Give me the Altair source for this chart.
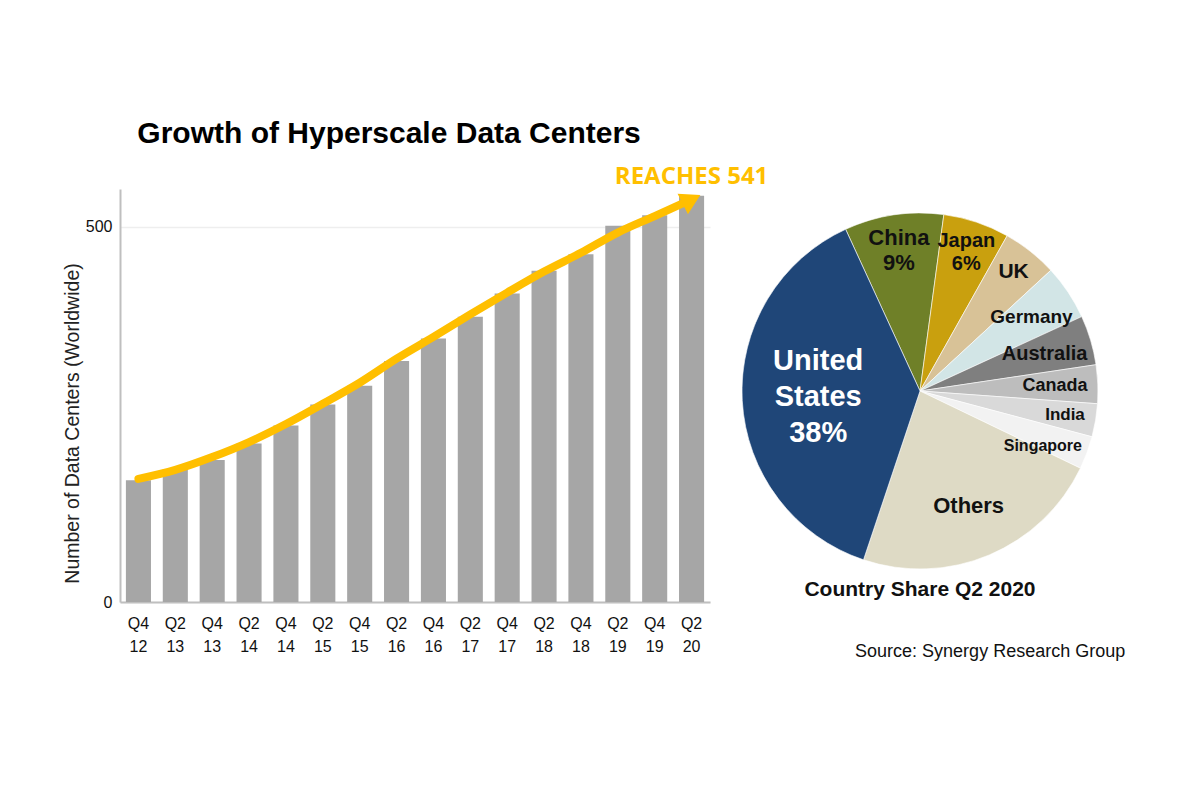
import math
import altair as alt
import pandas as pd

# Hyperscale data center counts (worldwide), half-yearly
quarters = ["Q4 12", "Q2 13", "Q4 13", "Q2 14", "Q4 14", "Q2 15", "Q4 15", "Q2 16",
            "Q4 16", "Q2 17", "Q4 17", "Q2 18", "Q4 18", "Q2 19", "Q4 19", "Q2 20"]
centers = [162, 177, 189, 211, 235, 263, 288, 321, 351, 380, 411, 441, 463, 501, 515, 541]
# Smoothed growth trend drawn as an arrow over the bars
trend = [164, 176, 193, 213, 237, 264, 292, 324, 353, 383, 412, 440, 465, 492, 514, 536]

# Country share of hyperscale data centers, Q2 2020 (percent)
countries = ["China", "Japan", "UK", "Germany", "Australia", "Canada", "India",
             "Singapore", "Others", "United States"]
shares = [9, 6, 5, 5, 4.5, 3.5, 3, 3, 23, 38]
slice_colors = ["#6F8028", "#C9A00E", "#D8C297", "#D2E5E6", "#7F7F7F", "#BDBDBD",
                "#D9D9D9", "#F2F2F2", "#DEDAC5", "#1F4678"]
slice_labels = ["China\n9%", "Japan\n6%", "UK", "Germany", "Australia", "Canada",
                "India", "Singapore", "Others", "United\nStates\n38%"]
label_sizes = [22, 20, 21, 19, 20, 18, 17, 16, 22, 29]
label_radius = [143, 146, 151, 134, 130, 135, 147, 131, 125, 102]
label_colors = ["#111111"] * 9 + ["#FFFFFF"]
# vertical nudge of each label block and its line spacing
label_dy = [-12, -12, 0, 0, 0, 0, 0, 10, 0, -36]
label_lh = [25, 23, 25, 25, 25, 25, 25, 25, 25, 36]

FONT = "Liberation Sans"
YELLOW = "#FFBF00"

bars_df = pd.DataFrame({"quarter": quarters, "centers": centers, "trend": trend})

x_enc = alt.X(
    "quarter:N", sort=quarters, title=None,
    scale=alt.Scale(paddingInner=0.32, paddingOuter=0.16),
    axis=alt.Axis(
        labelExpr="split(datum.label, ' ')", labelAngle=0, labelFont=FONT,
        labelFontSize=16, labelColor="#111111", labelPadding=13, ticks=False,
        domainColor="#BFBFBF", domainWidth=2, labelLineHeight=23,
    ),
)
y_scale = alt.Scale(domain=[0, 550], nice=False)
y_axis = alt.Axis(
    values=[0, 500], title="Number of Data Centers (Worldwide)", titleFont=FONT,
    titleFontSize=19.5, titleFontWeight="normal", titleColor="#222222", titlePadding=3,
    titleY=234, titleAnchor="middle",
    labelFont=FONT, labelFontSize=16, labelColor="#111111", ticks=False, labelPadding=8,
    domainColor="#BFBFBF", domainWidth=2, grid=True, gridColor="#EEEEEE", gridWidth=1.5,
)

base = alt.Chart(bars_df)
x_plain = alt.X("quarter:N", sort=quarters)
bars = base.mark_bar(color="#A6A6A6").encode(
    x=x_enc, y=alt.Y("centers:Q", scale=y_scale, axis=y_axis)
)
arrow_line = base.mark_line(
    color=YELLOW, strokeWidth=8, strokeCap="round", interpolate="monotone"
).encode(x=x_plain, y=alt.Y("trend:Q"))
last = base.transform_filter(alt.datum.quarter == quarters[-1])
arrow_head = last.mark_point(
    shape="triangle-right", filled=True, opacity=1, color=YELLOW, size=520, angle=333
).encode(x=x_plain, y=alt.Y("trend:Q"))
reach_label = last.transform_calculate(
    txt="'REACHES ' + datum.centers"
).mark_text(
    font="Open Sans", fontWeight="bold", fontSize=24, color=YELLOW, dy=-19,
    align="center", baseline="middle"
).encode(x=x_plain, y=alt.Y("centers:Q"), text="txt:N")

left = alt.layer(bars, arrow_line, arrow_head, reach_label).properties(
    width=590, height=413,
    title=alt.TitleParams(
        "Growth of Hyperscale Data Centers", anchor="start", font=FONT, fontSize=30,
        fontWeight="bold", color="#000000", dx=75, offset=16,
    ),
)

pie_df = pd.DataFrame({
    "country": countries, "share": shares, "label": slice_labels,
    "fsize": label_sizes, "r": label_radius, "tcolor": label_colors,
    "order": list(range(len(countries))), "ldy": label_dy, "llh": label_lh,
})
start = math.radians(-24.7)
theta_scale = alt.Scale(domain=[0, 100], range=[start, start + 2 * math.pi])

pie_base = alt.Chart(pie_df)
arcs = pie_base.mark_arc(outerRadius=178, stroke="#FFFFFF", strokeWidth=0.6).encode(
    theta=alt.Theta("share:Q", stack=True, scale=theta_scale),
    order=alt.Order("order:Q"),
    color=alt.Color("country:N", sort=countries,
                    scale=alt.Scale(domain=countries, range=slice_colors), legend=None),
)

# labels sit at the middle angle of each slice
mid_base = pie_base.transform_window(
    cum="sum(share)", sort=[alt.SortField("order")], frame=[None, 0]
).transform_calculate(mid="datum.cum - datum.share / 2")

text_layers = []
for dy, lh in sorted(set(zip(label_dy, label_lh))):
    text_layers.append(
        mid_base.transform_filter(
            (alt.datum.ldy == dy) & (alt.datum.llh == lh)
        ).mark_text(
            font=FONT, fontWeight="bold", lineBreak="\n", align="center",
            baseline="middle", lineHeight=lh, dy=dy
        ).encode(
            theta=alt.Theta("mid:Q", scale=theta_scale),
            text="label:N",
            radius=alt.Radius("r:Q", scale=None),
            size=alt.Size("fsize:Q", scale=None),
            color=alt.Color("tcolor:N", scale=None),
        )
    )

right = alt.layer(arcs, *text_layers).properties(
    width=356, height=404,
    title=alt.TitleParams(
        "Country Share Q2 2020", orient="bottom", anchor="middle", font=FONT,
        fontSize=21, fontWeight="bold", color="#111111", offset=-14,
    ),
)

chart = alt.hconcat(left, right, spacing=32, bounds="flush").properties(
    title=alt.TitleParams(
        "Source: Synergy Research Group", orient="bottom", anchor="end", font=FONT,
        fontSize=18, fontWeight="normal", color="#111111", offset=-11, dx=26,
    ),
    padding={"left": 62, "top": 118, "right": 20, "bottom": 20},
).configure_view(stroke=None).configure_concat(spacing=32)

chart.save("out.html", embed_options={"renderer": "svg", "actions": False})
